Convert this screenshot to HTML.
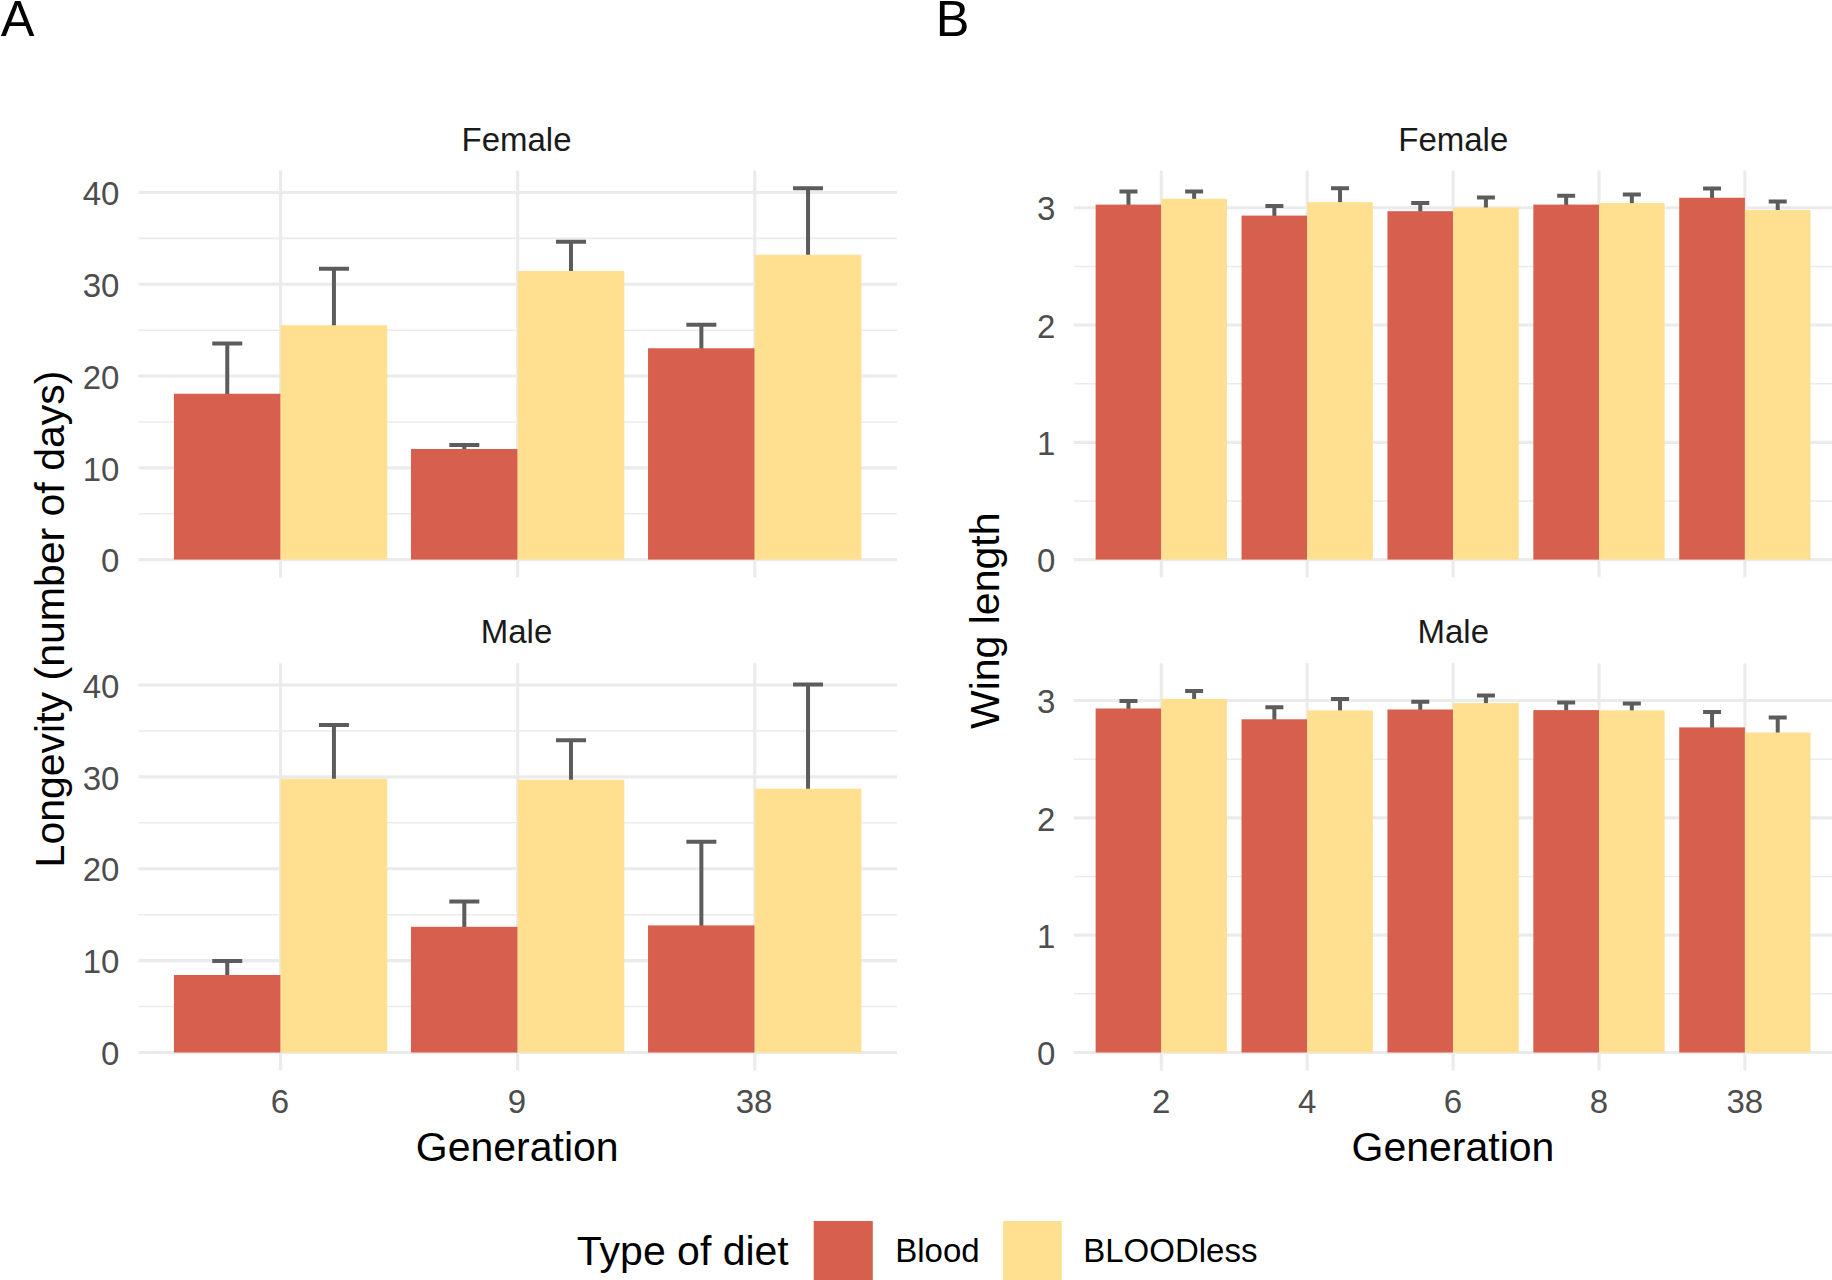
<!DOCTYPE html>
<html lang="en"><head><meta charset="utf-8"><title>Longevity and wing length by generation and diet</title>
<style>html,body{margin:0;padding:0;background:#fff}body{width:1832px;height:1280px;overflow:hidden}svg{display:block}text{font-family:"Liberation Sans", Arial, Helvetica, sans-serif}</style>
</head><body>
<svg width="1832" height="1280" viewBox="0 0 1832 1280">
<rect x="-20" y="-20" width="1872" height="1320" fill="#ffffff"/>
<g>
<line x1="138.4" x2="896.95" y1="513.71" y2="513.71" stroke="#EBEBEB" stroke-width="1.55"/>
<line x1="138.4" x2="896.95" y1="421.94" y2="421.94" stroke="#EBEBEB" stroke-width="1.55"/>
<line x1="138.4" x2="896.95" y1="330.16" y2="330.16" stroke="#EBEBEB" stroke-width="1.55"/>
<line x1="138.4" x2="896.95" y1="238.39" y2="238.39" stroke="#EBEBEB" stroke-width="1.55"/>
<line x1="138.4" x2="896.95" y1="559.60" y2="559.60" stroke="#EBEBEB" stroke-width="3.1"/>
<line x1="138.4" x2="896.95" y1="467.83" y2="467.83" stroke="#EBEBEB" stroke-width="3.1"/>
<line x1="138.4" x2="896.95" y1="376.05" y2="376.05" stroke="#EBEBEB" stroke-width="3.1"/>
<line x1="138.4" x2="896.95" y1="284.28" y2="284.28" stroke="#EBEBEB" stroke-width="3.1"/>
<line x1="138.4" x2="896.95" y1="192.50" y2="192.50" stroke="#EBEBEB" stroke-width="3.1"/>
<line x1="280.6" x2="280.6" y1="170.5" y2="577.5" stroke="#EBEBEB" stroke-width="3.1"/>
<line x1="517.65" x2="517.65" y1="170.5" y2="577.5" stroke="#EBEBEB" stroke-width="3.1"/>
<line x1="754.7" x2="754.7" y1="170.5" y2="577.5" stroke="#EBEBEB" stroke-width="3.1"/>
<path d="M212.27 343.50H242.27M227.27 343.50V394.75" stroke="#5C5C5C" stroke-width="4.0" fill="none"/>
<path d="M318.94 268.75H348.94M333.94 268.75V326.25" stroke="#5C5C5C" stroke-width="4.0" fill="none"/>
<path d="M449.31 445.00H479.31M464.31 445.00V450.00" stroke="#5C5C5C" stroke-width="4.0" fill="none"/>
<path d="M555.99 241.75H585.99M570.99 241.75V272.00" stroke="#5C5C5C" stroke-width="4.0" fill="none"/>
<path d="M686.37 324.75H716.37M701.37 324.75V349.25" stroke="#5C5C5C" stroke-width="4.0" fill="none"/>
<path d="M793.04 188.25H823.04M808.04 188.25V255.75" stroke="#5C5C5C" stroke-width="4.0" fill="none"/>
<rect x="173.93" y="393.75" width="106.67" height="165.85" fill="#D6604D"/>
<rect x="280.60" y="325.25" width="106.67" height="234.35" fill="#FEE090"/>
<rect x="410.98" y="449.00" width="106.67" height="110.60" fill="#D6604D"/>
<rect x="517.65" y="271.00" width="106.67" height="288.60" fill="#FEE090"/>
<rect x="648.03" y="348.25" width="106.67" height="211.35" fill="#D6604D"/>
<rect x="754.70" y="254.75" width="106.67" height="304.85" fill="#FEE090"/>
<text x="119.4" y="572.30" text-anchor="end" font-size="33" fill="#4D4D4D">0</text>
<text x="119.4" y="480.53" text-anchor="end" font-size="33" fill="#4D4D4D">10</text>
<text x="119.4" y="388.75" text-anchor="end" font-size="33" fill="#4D4D4D">20</text>
<text x="119.4" y="296.98" text-anchor="end" font-size="33" fill="#4D4D4D">30</text>
<text x="119.4" y="205.20" text-anchor="end" font-size="33" fill="#4D4D4D">40</text>
<line x1="138.4" x2="896.95" y1="1006.56" y2="1006.56" stroke="#EBEBEB" stroke-width="1.55"/>
<line x1="138.4" x2="896.95" y1="914.69" y2="914.69" stroke="#EBEBEB" stroke-width="1.55"/>
<line x1="138.4" x2="896.95" y1="822.81" y2="822.81" stroke="#EBEBEB" stroke-width="1.55"/>
<line x1="138.4" x2="896.95" y1="730.94" y2="730.94" stroke="#EBEBEB" stroke-width="1.55"/>
<line x1="138.4" x2="896.95" y1="1052.50" y2="1052.50" stroke="#EBEBEB" stroke-width="3.1"/>
<line x1="138.4" x2="896.95" y1="960.62" y2="960.62" stroke="#EBEBEB" stroke-width="3.1"/>
<line x1="138.4" x2="896.95" y1="868.75" y2="868.75" stroke="#EBEBEB" stroke-width="3.1"/>
<line x1="138.4" x2="896.95" y1="776.88" y2="776.88" stroke="#EBEBEB" stroke-width="3.1"/>
<line x1="138.4" x2="896.95" y1="685.00" y2="685.00" stroke="#EBEBEB" stroke-width="3.1"/>
<line x1="280.6" x2="280.6" y1="663.25" y2="1070.5" stroke="#EBEBEB" stroke-width="3.1"/>
<line x1="517.65" x2="517.65" y1="663.25" y2="1070.5" stroke="#EBEBEB" stroke-width="3.1"/>
<line x1="754.7" x2="754.7" y1="663.25" y2="1070.5" stroke="#EBEBEB" stroke-width="3.1"/>
<path d="M212.27 961.00H242.27M227.27 961.00V976.00" stroke="#5C5C5C" stroke-width="4.0" fill="none"/>
<path d="M318.94 725.00H348.94M333.94 725.00V779.75" stroke="#5C5C5C" stroke-width="4.0" fill="none"/>
<path d="M449.31 901.40H479.31M464.31 901.40V927.80" stroke="#5C5C5C" stroke-width="4.0" fill="none"/>
<path d="M555.99 740.30H585.99M570.99 740.30V780.70" stroke="#5C5C5C" stroke-width="4.0" fill="none"/>
<path d="M686.37 841.70H716.37M701.37 841.70V926.40" stroke="#5C5C5C" stroke-width="4.0" fill="none"/>
<path d="M793.04 684.50H823.04M808.04 684.50V789.70" stroke="#5C5C5C" stroke-width="4.0" fill="none"/>
<rect x="173.93" y="975.00" width="106.67" height="77.50" fill="#D6604D"/>
<rect x="280.60" y="778.75" width="106.67" height="273.75" fill="#FEE090"/>
<rect x="410.98" y="926.80" width="106.67" height="125.70" fill="#D6604D"/>
<rect x="517.65" y="779.70" width="106.67" height="272.80" fill="#FEE090"/>
<rect x="648.03" y="925.40" width="106.67" height="127.10" fill="#D6604D"/>
<rect x="754.70" y="788.70" width="106.67" height="263.80" fill="#FEE090"/>
<text x="119.4" y="1065.20" text-anchor="end" font-size="33" fill="#4D4D4D">0</text>
<text x="119.4" y="973.33" text-anchor="end" font-size="33" fill="#4D4D4D">10</text>
<text x="119.4" y="881.45" text-anchor="end" font-size="33" fill="#4D4D4D">20</text>
<text x="119.4" y="789.58" text-anchor="end" font-size="33" fill="#4D4D4D">30</text>
<text x="119.4" y="697.70" text-anchor="end" font-size="33" fill="#4D4D4D">40</text>
<line x1="1073.8" x2="1850" y1="500.97" y2="500.97" stroke="#EBEBEB" stroke-width="1.55"/>
<line x1="1073.8" x2="1850" y1="383.70" y2="383.70" stroke="#EBEBEB" stroke-width="1.55"/>
<line x1="1073.8" x2="1850" y1="266.43" y2="266.43" stroke="#EBEBEB" stroke-width="1.55"/>
<line x1="1073.8" x2="1850" y1="559.60" y2="559.60" stroke="#EBEBEB" stroke-width="3.1"/>
<line x1="1073.8" x2="1850" y1="442.33" y2="442.33" stroke="#EBEBEB" stroke-width="3.1"/>
<line x1="1073.8" x2="1850" y1="325.06" y2="325.06" stroke="#EBEBEB" stroke-width="3.1"/>
<line x1="1073.8" x2="1850" y1="207.79" y2="207.79" stroke="#EBEBEB" stroke-width="3.1"/>
<line x1="1161.3" x2="1161.3" y1="170.5" y2="577.5" stroke="#EBEBEB" stroke-width="3.1"/>
<line x1="1307.2" x2="1307.2" y1="170.5" y2="577.5" stroke="#EBEBEB" stroke-width="3.1"/>
<line x1="1453.1" x2="1453.1" y1="170.5" y2="577.5" stroke="#EBEBEB" stroke-width="3.1"/>
<line x1="1599.0" x2="1599.0" y1="170.5" y2="577.5" stroke="#EBEBEB" stroke-width="3.1"/>
<line x1="1744.9" x2="1744.9" y1="170.5" y2="577.5" stroke="#EBEBEB" stroke-width="3.1"/>
<path d="M1119.47 191.50H1137.47M1128.47 191.50V205.60" stroke="#5C5C5C" stroke-width="4.0" fill="none"/>
<path d="M1185.13 191.40H1203.13M1194.13 191.40V199.80" stroke="#5C5C5C" stroke-width="4.0" fill="none"/>
<path d="M1265.37 206.00H1283.37M1274.37 206.00V216.60" stroke="#5C5C5C" stroke-width="4.0" fill="none"/>
<path d="M1331.03 188.20H1349.03M1340.03 188.20V203.10" stroke="#5C5C5C" stroke-width="4.0" fill="none"/>
<path d="M1411.27 203.00H1429.27M1420.27 203.00V212.20" stroke="#5C5C5C" stroke-width="4.0" fill="none"/>
<path d="M1476.93 197.50H1494.93M1485.93 197.50V208.50" stroke="#5C5C5C" stroke-width="4.0" fill="none"/>
<path d="M1557.17 195.70H1575.17M1566.17 195.70V205.60" stroke="#5C5C5C" stroke-width="4.0" fill="none"/>
<path d="M1622.83 194.40H1640.83M1631.83 194.40V204.10" stroke="#5C5C5C" stroke-width="4.0" fill="none"/>
<path d="M1703.07 188.40H1721.07M1712.07 188.40V198.75" stroke="#5C5C5C" stroke-width="4.0" fill="none"/>
<path d="M1768.73 201.50H1786.73M1777.73 201.50V211.00" stroke="#5C5C5C" stroke-width="4.0" fill="none"/>
<rect x="1095.64" y="204.60" width="65.66" height="355.00" fill="#D6604D"/>
<rect x="1161.30" y="198.80" width="65.66" height="360.80" fill="#FEE090"/>
<rect x="1241.54" y="215.60" width="65.66" height="344.00" fill="#D6604D"/>
<rect x="1307.20" y="202.10" width="65.66" height="357.50" fill="#FEE090"/>
<rect x="1387.44" y="211.20" width="65.66" height="348.40" fill="#D6604D"/>
<rect x="1453.10" y="207.50" width="65.66" height="352.10" fill="#FEE090"/>
<rect x="1533.34" y="204.60" width="65.66" height="355.00" fill="#D6604D"/>
<rect x="1599.00" y="203.10" width="65.66" height="356.50" fill="#FEE090"/>
<rect x="1679.24" y="197.75" width="65.66" height="361.85" fill="#D6604D"/>
<rect x="1744.90" y="210.00" width="65.66" height="349.60" fill="#FEE090"/>
<text x="1055.4" y="572.30" text-anchor="end" font-size="33" fill="#4D4D4D">0</text>
<text x="1055.4" y="455.03" text-anchor="end" font-size="33" fill="#4D4D4D">1</text>
<text x="1055.4" y="337.76" text-anchor="end" font-size="33" fill="#4D4D4D">2</text>
<text x="1055.4" y="220.49" text-anchor="end" font-size="33" fill="#4D4D4D">3</text>
<line x1="1073.8" x2="1850" y1="993.84" y2="993.84" stroke="#EBEBEB" stroke-width="1.55"/>
<line x1="1073.8" x2="1850" y1="876.50" y2="876.50" stroke="#EBEBEB" stroke-width="1.55"/>
<line x1="1073.8" x2="1850" y1="759.17" y2="759.17" stroke="#EBEBEB" stroke-width="1.55"/>
<line x1="1073.8" x2="1850" y1="1052.50" y2="1052.50" stroke="#EBEBEB" stroke-width="3.1"/>
<line x1="1073.8" x2="1850" y1="935.17" y2="935.17" stroke="#EBEBEB" stroke-width="3.1"/>
<line x1="1073.8" x2="1850" y1="817.84" y2="817.84" stroke="#EBEBEB" stroke-width="3.1"/>
<line x1="1073.8" x2="1850" y1="700.51" y2="700.51" stroke="#EBEBEB" stroke-width="3.1"/>
<line x1="1161.3" x2="1161.3" y1="663.25" y2="1070.5" stroke="#EBEBEB" stroke-width="3.1"/>
<line x1="1307.2" x2="1307.2" y1="663.25" y2="1070.5" stroke="#EBEBEB" stroke-width="3.1"/>
<line x1="1453.1" x2="1453.1" y1="663.25" y2="1070.5" stroke="#EBEBEB" stroke-width="3.1"/>
<line x1="1599.0" x2="1599.0" y1="663.25" y2="1070.5" stroke="#EBEBEB" stroke-width="3.1"/>
<line x1="1744.9" x2="1744.9" y1="663.25" y2="1070.5" stroke="#EBEBEB" stroke-width="3.1"/>
<path d="M1119.47 701.00H1137.47M1128.47 701.00V709.50" stroke="#5C5C5C" stroke-width="4.0" fill="none"/>
<path d="M1185.13 691.00H1203.13M1194.13 691.00V699.90" stroke="#5C5C5C" stroke-width="4.0" fill="none"/>
<path d="M1265.37 707.20H1283.37M1274.37 707.20V720.30" stroke="#5C5C5C" stroke-width="4.0" fill="none"/>
<path d="M1331.03 699.10H1349.03M1340.03 699.10V711.35" stroke="#5C5C5C" stroke-width="4.0" fill="none"/>
<path d="M1411.27 701.80H1429.27M1420.27 701.80V710.50" stroke="#5C5C5C" stroke-width="4.0" fill="none"/>
<path d="M1476.93 695.60H1494.93M1485.93 695.60V704.10" stroke="#5C5C5C" stroke-width="4.0" fill="none"/>
<path d="M1557.17 702.50H1575.17M1566.17 702.50V711.10" stroke="#5C5C5C" stroke-width="4.0" fill="none"/>
<path d="M1622.83 703.50H1640.83M1631.83 703.50V711.35" stroke="#5C5C5C" stroke-width="4.0" fill="none"/>
<path d="M1703.07 712.00H1721.07M1712.07 712.00V728.40" stroke="#5C5C5C" stroke-width="4.0" fill="none"/>
<path d="M1768.73 717.60H1786.73M1777.73 717.60V733.50" stroke="#5C5C5C" stroke-width="4.0" fill="none"/>
<rect x="1095.64" y="708.50" width="65.66" height="344.00" fill="#D6604D"/>
<rect x="1161.30" y="698.90" width="65.66" height="353.60" fill="#FEE090"/>
<rect x="1241.54" y="719.30" width="65.66" height="333.20" fill="#D6604D"/>
<rect x="1307.20" y="710.35" width="65.66" height="342.15" fill="#FEE090"/>
<rect x="1387.44" y="709.50" width="65.66" height="343.00" fill="#D6604D"/>
<rect x="1453.10" y="703.10" width="65.66" height="349.40" fill="#FEE090"/>
<rect x="1533.34" y="710.10" width="65.66" height="342.40" fill="#D6604D"/>
<rect x="1599.00" y="710.35" width="65.66" height="342.15" fill="#FEE090"/>
<rect x="1679.24" y="727.40" width="65.66" height="325.10" fill="#D6604D"/>
<rect x="1744.90" y="732.50" width="65.66" height="320.00" fill="#FEE090"/>
<text x="1055.4" y="1065.20" text-anchor="end" font-size="33" fill="#4D4D4D">0</text>
<text x="1055.4" y="947.87" text-anchor="end" font-size="33" fill="#4D4D4D">1</text>
<text x="1055.4" y="830.54" text-anchor="end" font-size="33" fill="#4D4D4D">2</text>
<text x="1055.4" y="713.21" text-anchor="end" font-size="33" fill="#4D4D4D">3</text>
<text x="516.5" y="150.5" text-anchor="middle" font-size="33" fill="#1A1A1A">Female</text>
<text x="516.5" y="642.6" text-anchor="middle" font-size="33" fill="#1A1A1A">Male</text>
<text x="1453.3" y="150.5" text-anchor="middle" font-size="33" fill="#1A1A1A">Female</text>
<text x="1453.3" y="642.6" text-anchor="middle" font-size="33" fill="#1A1A1A">Male</text>
<text x="280.00" y="1113.3" text-anchor="middle" font-size="33" fill="#4D4D4D">6</text>
<text x="517.05" y="1113.3" text-anchor="middle" font-size="33" fill="#4D4D4D">9</text>
<text x="754.10" y="1113.3" text-anchor="middle" font-size="33" fill="#4D4D4D">38</text>
<text x="1161.20" y="1113.3" text-anchor="middle" font-size="33" fill="#4D4D4D">2</text>
<text x="1307.10" y="1113.3" text-anchor="middle" font-size="33" fill="#4D4D4D">4</text>
<text x="1453.00" y="1113.3" text-anchor="middle" font-size="33" fill="#4D4D4D">6</text>
<text x="1598.90" y="1113.3" text-anchor="middle" font-size="33" fill="#4D4D4D">8</text>
<text x="1744.80" y="1113.3" text-anchor="middle" font-size="33" fill="#4D4D4D">38</text>
<text x="517.25" y="1160.5" text-anchor="middle" font-size="41" fill="#000">Generation</text>
<text x="1453" y="1160.5" text-anchor="middle" font-size="41" fill="#000">Generation</text>
<text transform="translate(63.7 619) rotate(-90)" text-anchor="middle" font-size="41" fill="#000">Longevity (number of days)</text>
<text transform="translate(999 620.8) rotate(-90)" text-anchor="middle" font-size="41" fill="#000">Wing length</text>
<text x="0.8" y="35.6" font-size="50.5" fill="#000">A</text>
<text x="935.8" y="35.6" font-size="50.5" fill="#000">B</text>
<text x="576.8" y="1265" font-size="41" fill="#000">Type of diet</text>
<rect x="813.7" y="1221" width="59.1" height="75" fill="#D6604D"/>
<text x="895.2" y="1262" font-size="33" fill="#000">Blood</text>
<rect x="1003.1" y="1221" width="58.7" height="75" fill="#FEE090"/>
<text x="1083.2" y="1262" font-size="33" fill="#000">BLOODless</text>
</g></svg></body></html>
